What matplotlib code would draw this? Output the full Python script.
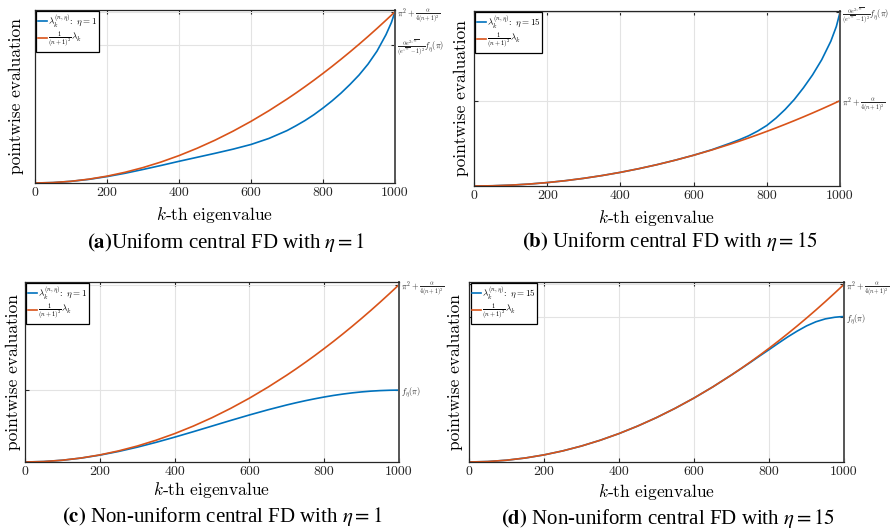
import matplotlib
matplotlib.use("Agg")
import matplotlib.pyplot as plt

plt.rcParams['axes.formatter.use_mathtext'] = True
plt.rcParams['mathtext.fontset'] = 'cm'

# ---------------- data ----------------
k_grid = [0, 50, 100, 150, 200, 250, 300, 350, 400, 450, 500, 550, 600, 650,
          700, 725, 750, 775, 800, 825, 850, 875, 900, 925, 950, 975, 990, 1000]

# scaled continuous eigenvalues  (1/(n+1)^2) * lambda_k  (same in all panels)
scaled_lambda = [0.0, 0.025, 0.099, 0.222, 0.395, 0.617, 0.888, 1.209, 1.579,
                 1.999, 2.467, 2.986, 3.553, 4.170,
                 4.836, 5.187, 5.552, 5.928, 6.317, 6.717, 7.131, 7.556,
                 7.994, 8.444, 8.907, 9.382, 9.673, 9.870]

# (a) uniform, eta = 1
blue_a = [0.0, 0.024, 0.095, 0.21, 0.37, 0.56, 0.78, 1.01, 1.25, 1.48, 1.71,
          1.95, 2.22, 2.57,
          3.02, 3.30, 3.60, 3.94, 4.32, 4.73, 5.18, 5.68, 6.22, 6.85, 7.60,
          8.55, 9.25, 9.87]
# (b) uniform, eta = 15
blue_b = [0.0, 0.025, 0.099, 0.222, 0.395, 0.617, 0.888, 1.21, 1.58, 2.0,
          2.47, 2.99, 3.56, 4.20,
          4.95, 5.35, 5.80, 6.35, 7.00, 7.85, 8.85, 10.0, 11.35, 12.85, 14.6,
          16.75, 18.45, 20.08]
# (c) non-uniform, eta = 1
blue_c = [0.0, 0.0246, 0.098, 0.218, 0.382, 0.586, 0.824, 1.092, 1.382,
          1.687, 2.0, 2.313, 2.618, 2.908,
          3.176, 3.299, 3.414, 3.520, 3.618, 3.706, 3.782, 3.848, 3.902,
          3.945, 3.975, 3.994, 3.999, 4.0]
# (d) non-uniform, eta = 15
blue_d = [0.0, 0.025, 0.099, 0.222, 0.395, 0.617, 0.888, 1.209, 1.579, 1.999,
          2.467, 2.986, 3.553, 4.170,
          4.836, 5.18, 5.53, 5.89, 6.24, 6.60, 6.95, 7.27, 7.56, 7.79, 7.95,
          8.04, 8.07, 8.08]

blue_series = [blue_a, blue_b, blue_c, blue_d]
eta_values = [1, 15, 1, 15]
y_tops = [9.97, 20.24, 10.02, 10.0]

lab_pi = r'$\pi^2+\frac{\alpha}{4(n+1)^2}$'
lab_exp = r'$\frac{\alpha e^{2\sqrt{\alpha}}}{(e^{\sqrt{\alpha}}-1)^2}f_\eta(\pi)$'
lab_f = r'$f_\eta(\pi)$'
right_ticks = [[7.95, 9.87], [9.87, 20.08], [4.0, 9.87], [8.08, 9.87]]
right_labels = [[lab_exp, lab_pi], [lab_pi, lab_exp], [lab_f, lab_pi], [lab_f, lab_pi]]

x_ticks = [0, 200, 400, 600, 800, 1000]
x_ticklabels = ['0', '200', '400', '600', '800', '1000']

captions = [r'$\mathbf{(a)}$Uniform central FD with $\eta = 1$',
            r'$\mathbf{(b)}$ Uniform central FD with $\eta = 15$',
            r'$\mathbf{(c)}$ Non-uniform central FD with $\eta = 1$',
            r'$\mathbf{(d)}$ Non-uniform central FD with $\eta = 15$']

# ---------------- layout ----------------
W, H = 894, 531
fig = plt.figure(figsize=(W / 100, H / 100), dpi=100)

boxes_px = [(35, 395, 10, 183), (474, 840, 11, 186),
            (25, 399, 282, 462), (469, 844, 282, 462)]
ylabel_x_px = [24, 469, 21, 463]
xlabel_y_px = [215, 218, 490, 492]
caption_px = [(226, 243), (670, 241), (222, 517), (668, 518)]

BLUE = '#0072BD'
ORANGE = '#D95319'
CM = 'cmr10'

for i in range(4):
    l, r, t, b = boxes_px[i]
    ax = fig.add_axes([l / W, 1 - b / H, (r - l) / W, (b - t) / H])
    ax.plot(k_grid, blue_series[i], color=BLUE, lw=1.2,
            label=r'$\lambda_k^{(n,\eta)}\!:\ \eta=%d$' % eta_values[i])
    ax.plot(k_grid, scaled_lambda, color=ORANGE, lw=1.2,
            label=r'$\frac{1}{(n+1)^2}\lambda_k$')
    ax.set_xlim(0, 1000)
    ax.set_ylim(0, y_tops[i])
    ax.set_xticks(x_ticks)
    ax.set_xticklabels(x_ticklabels, fontfamily=CM, fontsize=10)
    ax.set_yticks(right_ticks[i])
    ax.set_yticklabels(right_labels[i], fontsize=6)
    ax.tick_params(axis='both', direction='in', length=3, width=0.8,
                   top=True, right=True, left=True, bottom=True,
                   labelleft=False, labelright=True, colors='#262626')
    ax.tick_params(axis='x', pad=3)
    ax.tick_params(axis='y', pad=1.5)
    ax.grid(True, color='#e3e3e3', lw=0.8)
    ax.set_axisbelow(True)
    for s in ax.spines.values():
        s.set_color('#262626')
        s.set_linewidth(0.9)
    ax.spines['right'].set_color('#555555')
    ax.spines['right'].set_linewidth(1.4)

    ax.set_ylabel('pointwise evaluation', fontfamily=CM, fontsize=12.5,
                  va='center')
    ax.yaxis.set_label_position('left')
    ax.yaxis.set_label_coords((ylabel_x_px[i] - l) / (r - l), 0.5)
    ax.set_xlabel(r'$k$-th eigenvalue', fontfamily=CM, fontsize=12.5,
                  va='center')
    ax.xaxis.set_label_coords(0.5, (b - xlabel_y_px[i]) / (b - t))

    leg = ax.legend(loc='upper left', bbox_to_anchor=(0.004, 0.995),
                    borderaxespad=0, fontsize=6.5, frameon=True, fancybox=False,
                    framealpha=1, edgecolor='black', handlelength=1.0,
                    handletextpad=0.15, borderpad=0.15, labelspacing=0.1)
    leg.get_frame().set_linewidth(0.9)

    cx, cy = caption_px[i]
    fig.text(cx / W, 1 - cy / H, captions[i], ha='center', va='center',
             fontsize=15, fontfamily='Liberation Serif', math_fontfamily='stix')

fig.savefig('out.png', dpi=100)
